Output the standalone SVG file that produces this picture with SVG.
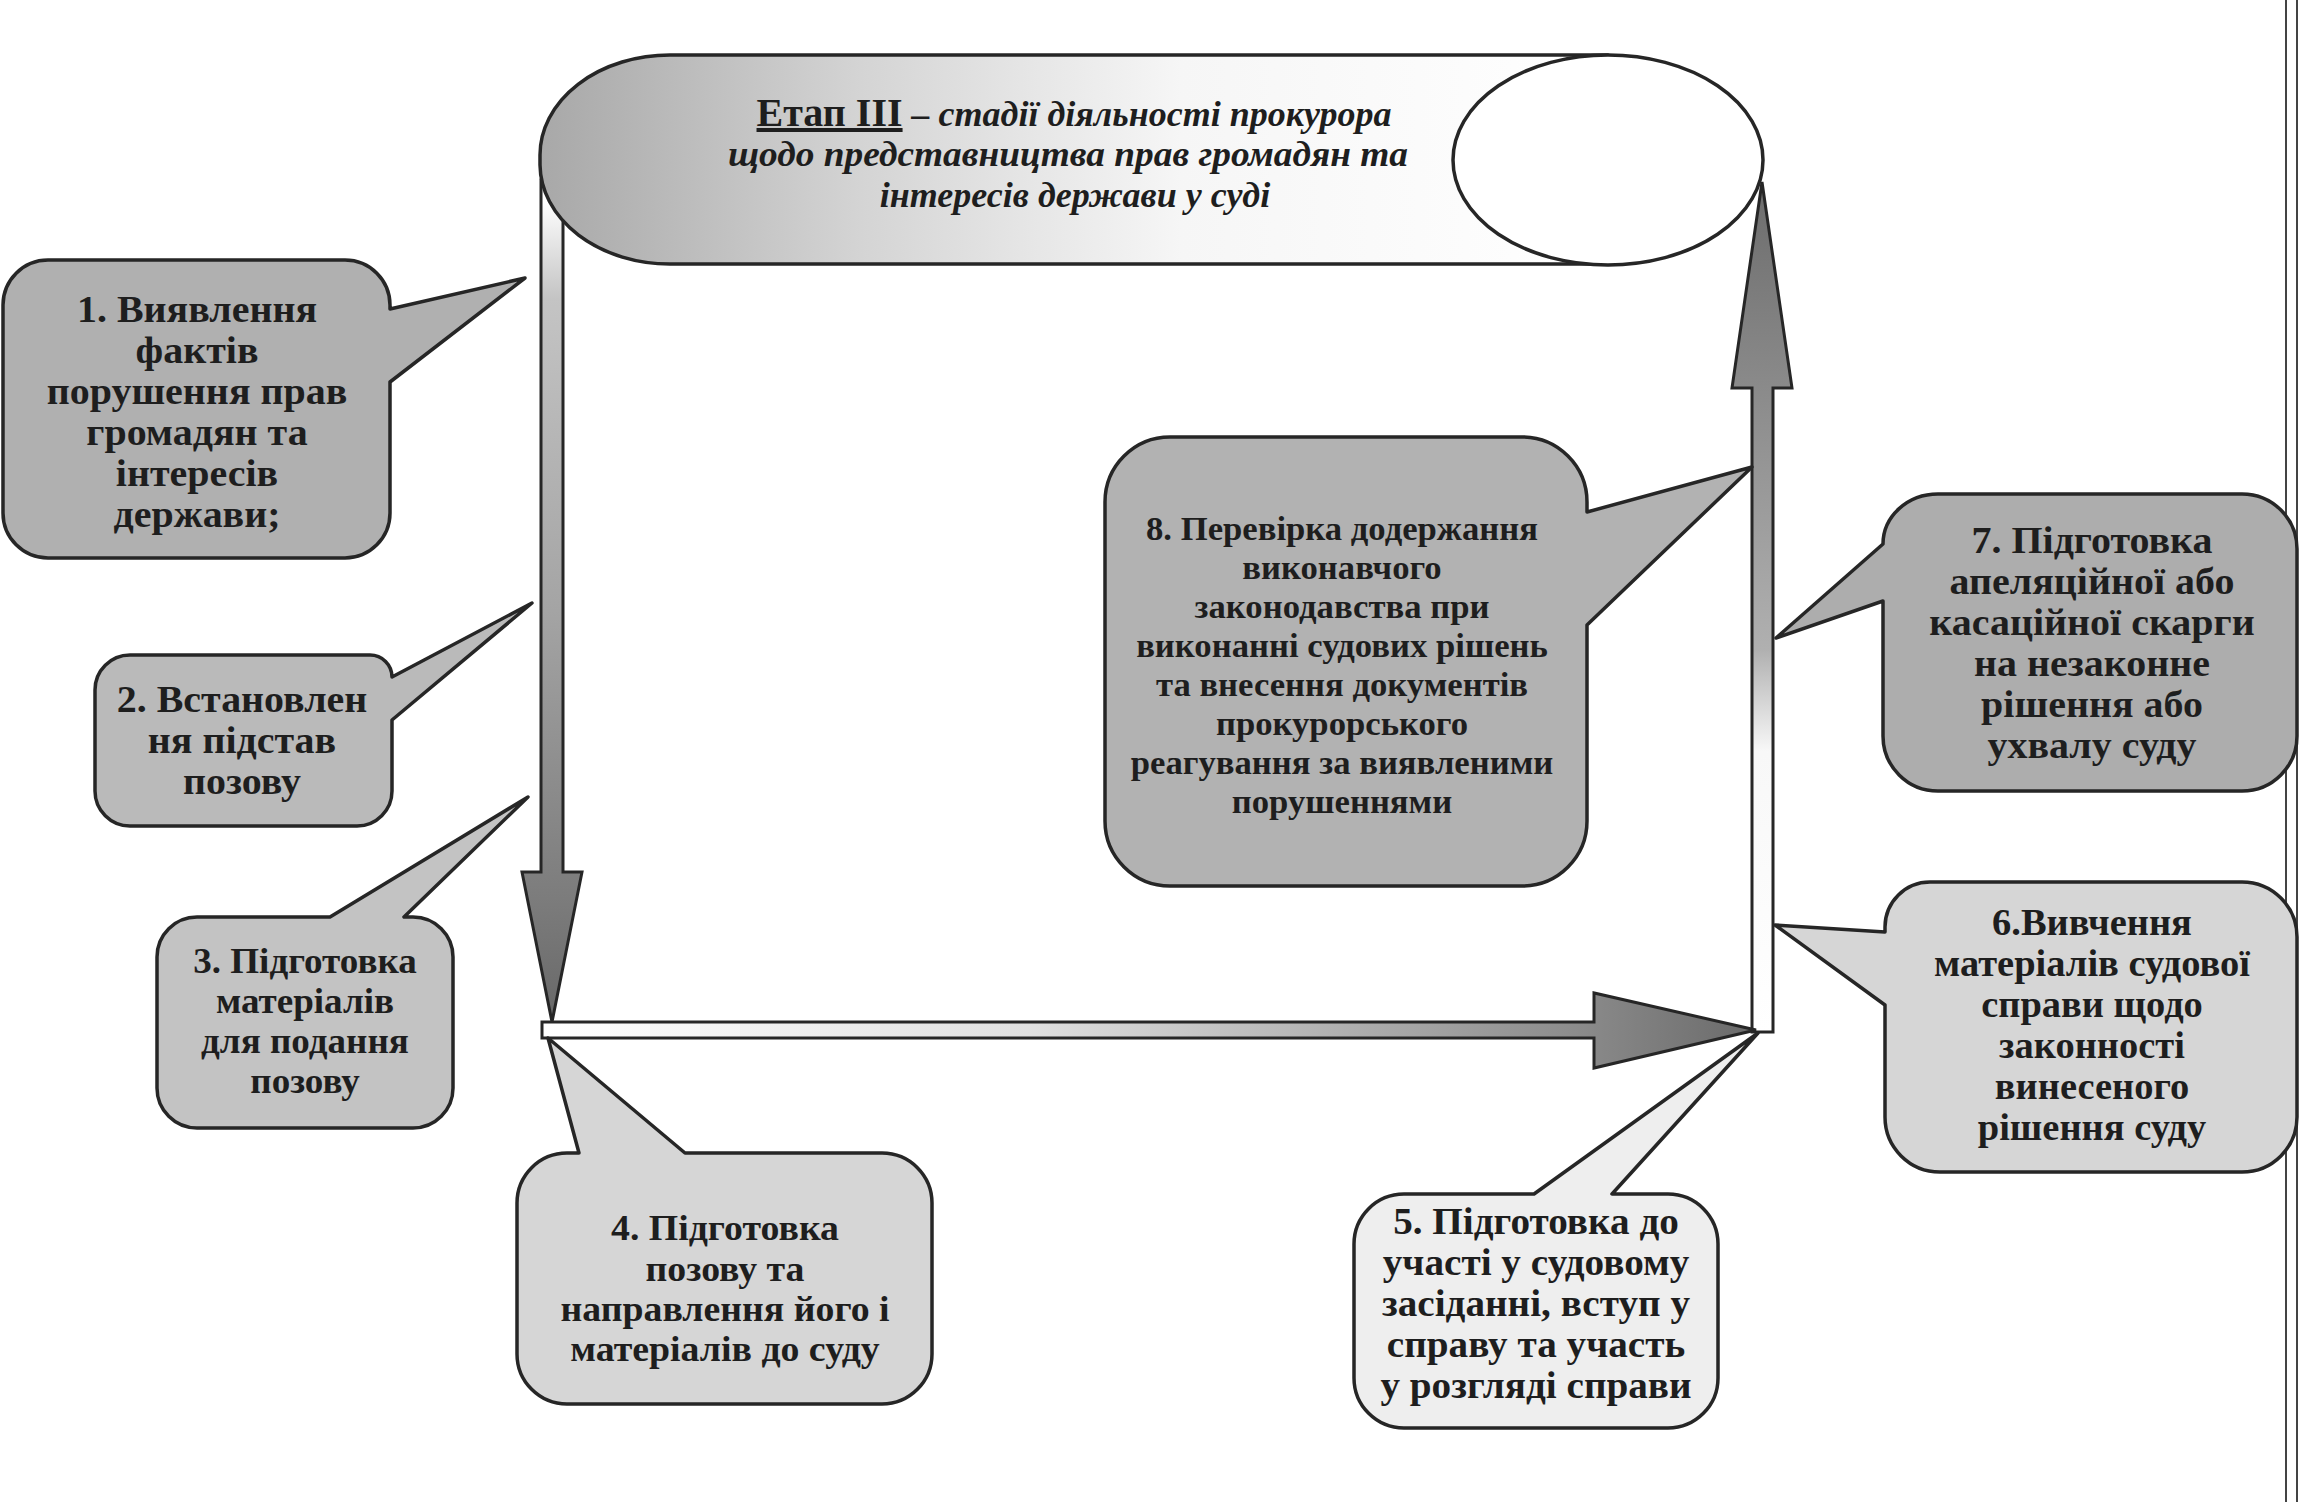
<svg xmlns="http://www.w3.org/2000/svg" width="2302" height="1502" viewBox="0 0 2302 1502">
<defs>
<linearGradient id="gScroll" x1="0" y1="0" x2="1" y2="0">
<stop offset="0" stop-color="#a8a8a8"/><stop offset="0.3" stop-color="#d4d4d4"/><stop offset="0.6" stop-color="#f6f6f6"/><stop offset="1" stop-color="#ffffff"/>
</linearGradient>
<linearGradient id="gLeft" gradientUnits="userSpaceOnUse" x1="0" y1="200" x2="0" y2="1022">
<stop offset="0" stop-color="#ffffff"/><stop offset="0.12" stop-color="#c4c4c4"/><stop offset="0.5" stop-color="#a4a4a4"/><stop offset="0.85" stop-color="#7c7c7c"/><stop offset="1" stop-color="#686868"/>
</linearGradient>
<linearGradient id="gH" gradientUnits="userSpaceOnUse" x1="542" y1="0" x2="1756" y2="0">
<stop offset="0" stop-color="#ffffff"/><stop offset="0.4" stop-color="#e0e0e0"/><stop offset="0.85" stop-color="#8c8c8c"/><stop offset="1" stop-color="#6a6a6a"/>
</linearGradient>
<linearGradient id="gRight" gradientUnits="userSpaceOnUse" x1="0" y1="1032" x2="0" y2="182">
<stop offset="0" stop-color="#ffffff"/><stop offset="0.33" stop-color="#f8f8f8"/><stop offset="0.45" stop-color="#b0b0b0"/><stop offset="0.76" stop-color="#8a8a8a"/><stop offset="1" stop-color="#6c6c6c"/>
</linearGradient>
</defs>
<style>
.box{stroke:#262626;stroke-width:3.5;stroke-linejoin:round}
.bar{stroke:#262626;stroke-width:3;stroke-linejoin:miter}
.t{font-family:"Liberation Serif","Times New Roman",serif;font-weight:bold;fill:#1e1e1e;text-anchor:middle}
.h{font-family:"Liberation Serif","Times New Roman",serif;font-weight:bold;font-style:italic;fill:#1e1e1e}
</style>
<rect width="2302" height="1502" fill="#ffffff"/>
<g id="page-border" stroke="#444" stroke-width="2">
<line x1="2286" y1="0" x2="2286" y2="1502"/>
<line x1="2297" y1="0" x2="2297" y2="1502"/>
</g>
<g id="connectors">
<path class="bar" fill="url(#gLeft)" d="M541,180 H563 V872 H582 L552,1022 L522,872 H541 Z"/>
<path class="bar" fill="url(#gRight)" d="M1752,1032 H1773 V388 H1792 L1762,182 L1732,388 H1752 Z"/>
<path class="bar" fill="url(#gH)" d="M542,1022 H1594 V993 L1756,1030 L1594,1068 V1038 H542 Z"/>
</g>
<g id="title">
<path class="box" fill="url(#gScroll)" d="M1608,55 H670 A130,100 0 0 0 540,155 V165 A130,100 0 0 0 670,264 H1608 Z"/>
<ellipse class="box" cx="1608" cy="160" rx="155" ry="105" fill="#ffffff"/>
<text class="h" x="1074" y="126" text-anchor="middle"><tspan font-style="normal" font-size="40" text-decoration="underline">Етап III</tspan><tspan font-size="36"> – стадії діяльності прокурора</tspan></text>
<text class="h" x="1068" y="166" font-size="36" text-anchor="middle" textLength="680" lengthAdjust="spacingAndGlyphs">щодо представництва прав громадян та</text>
<text class="h" x="1075" y="207" font-size="36" text-anchor="middle">інтересів держави у суді</text>
</g>
<g id="n1">
<path class="box" fill="#b0b0b0" d="M48,260 H345 A45,45 0 0 1 390,305 V309 L525,278 L390,382 V513 A45,45 0 0 1 345,558 H48 A45,45 0 0 1 3,513 V305 A45,45 0 0 1 48,260 Z"/>
<text class="t" font-size="37" transform="translate(197 0) scale(1.08 1)"><tspan x="0" y="322">1. Виявлення</tspan><tspan x="0" y="363">фактів</tspan><tspan x="0" y="404">порушення прав</tspan><tspan x="0" y="445">громадян та</tspan><tspan x="0" y="486">інтересів</tspan><tspan x="0" y="527">держави;</tspan></text>
</g>
<g id="n2">
<path class="box" fill="#bababa" d="M130,655 H370 A22,22 0 0 1 392,677 L532,603 L392,720 V791 A35,35 0 0 1 357,826 H130 A35,35 0 0 1 95,791 V690 A35,35 0 0 1 130,655 Z"/>
<text class="t" font-size="37" transform="translate(242 0) scale(1.08 1)"><tspan x="0" y="712">2. Встановлен</tspan><tspan x="0" y="753">ня підстав</tspan><tspan x="0" y="794">позову</tspan></text>
</g>
<g id="n3">
<path class="box" fill="#c3c3c3" d="M197,917 H330 L528,797 L404,917 H413 A40,40 0 0 1 453,957 V1088 A40,40 0 0 1 413,1128 H197 A40,40 0 0 1 157,1088 V957 A40,40 0 0 1 197,917 Z"/>
<text class="t" font-size="36" transform="translate(305 0) scale(1.03 1)"><tspan x="0" y="973">3. Підготовка</tspan><tspan x="0" y="1013">матеріалів</tspan><tspan x="0" y="1053">для подання</tspan><tspan x="0" y="1093">позову</tspan></text>
</g>
<g id="n4">
<path class="box" fill="#d6d6d6" d="M567,1153 H579 L548,1038 L685,1153 H882 A50,50 0 0 1 932,1203 V1354 A50,50 0 0 1 882,1404 H567 A50,50 0 0 1 517,1354 V1203 A50,50 0 0 1 567,1153 Z"/>
<text class="t" font-size="36" transform="translate(725 0) scale(1.05 1)"><tspan x="0" y="1240">4. Підготовка</tspan><tspan x="0" y="1281">позову та</tspan><tspan x="0" y="1321">направлення його і</tspan><tspan x="0" y="1361">матеріалів до суду</tspan></text>
</g>
<g id="n5">
<path class="box" fill="#eeeeee" d="M1404,1194 H1534 L1758,1033 L1612,1194 H1668 A50,50 0 0 1 1718,1244 V1378 A50,50 0 0 1 1668,1428 H1404 A50,50 0 0 1 1354,1378 V1244 A50,50 0 0 1 1404,1194 Z"/>
<text class="t" font-size="37" transform="translate(1536 0) scale(1.06 1)"><tspan x="0" y="1234">5. Підготовка до</tspan><tspan x="0" y="1275">участі у судовому</tspan><tspan x="0" y="1316">засіданні, вступ у</tspan><tspan x="0" y="1357">справу  та участь</tspan><tspan x="0" y="1398">у розгляді справи</tspan></text>
</g>
<g id="n6">
<path class="box" fill="#d6d6d6" d="M1930,882 H2242 A55,55 0 0 1 2297,937 V1117 A55,55 0 0 1 2242,1172 H1940 A55,55 0 0 1 1885,1117 V1005 L1775,925 L1885,932 V927 A45,45 0 0 1 1930,882 Z"/>
<text class="t" font-size="37" transform="translate(2092 0) scale(1.04 1)"><tspan x="0" y="935">6.Вивчення</tspan><tspan x="0" y="976">матеріалів судової</tspan><tspan x="0" y="1017">справи щодо</tspan><tspan x="0" y="1058">законності</tspan><tspan x="0" y="1099">винесеного</tspan><tspan x="0" y="1140">рішення суду</tspan></text>
</g>
<g id="n7">
<path class="box" fill="#adadad" d="M1938,494 H2242 A55,55 0 0 1 2297,549 V736 A55,55 0 0 1 2242,791 H1938 A55,55 0 0 1 1883,736 V601 L1776,638 L1883,544 A55,50 0 0 1 1938,494 Z"/>
<text class="t" font-size="37" transform="translate(2092 0) scale(1.08 1)"><tspan x="0" y="553">7. Підготовка</tspan><tspan x="0" y="594">апеляційної або</tspan><tspan x="0" y="635">касаційної скарги</tspan><tspan x="0" y="676">на незаконне</tspan><tspan x="0" y="717">рішення або</tspan><tspan x="0" y="758">ухвалу суду</tspan></text>
</g>
<g id="n8">
<path class="box" fill="#b2b2b2" d="M1170,437 H1522 A65,65 0 0 1 1587,502 V512 L1752,467 L1587,625 V821 A65,65 0 0 1 1522,886 H1170 A65,65 0 0 1 1105,821 V502 A65,65 0 0 1 1170,437 Z"/>
<text class="t" font-size="34" transform="translate(1342 0) scale(1.02 1)"><tspan x="0" y="540">8. Перевірка додержання</tspan><tspan x="0" y="579">виконавчого</tspan><tspan x="0" y="618">законодавства при</tspan><tspan x="0" y="657">виконанні судових рішень</tspan><tspan x="0" y="696">та внесення   документів</tspan><tspan x="0" y="735">прокурорського</tspan><tspan x="0" y="774">реагування за виявленими</tspan><tspan x="0" y="813">порушеннями</tspan></text>
</g>
</svg>
